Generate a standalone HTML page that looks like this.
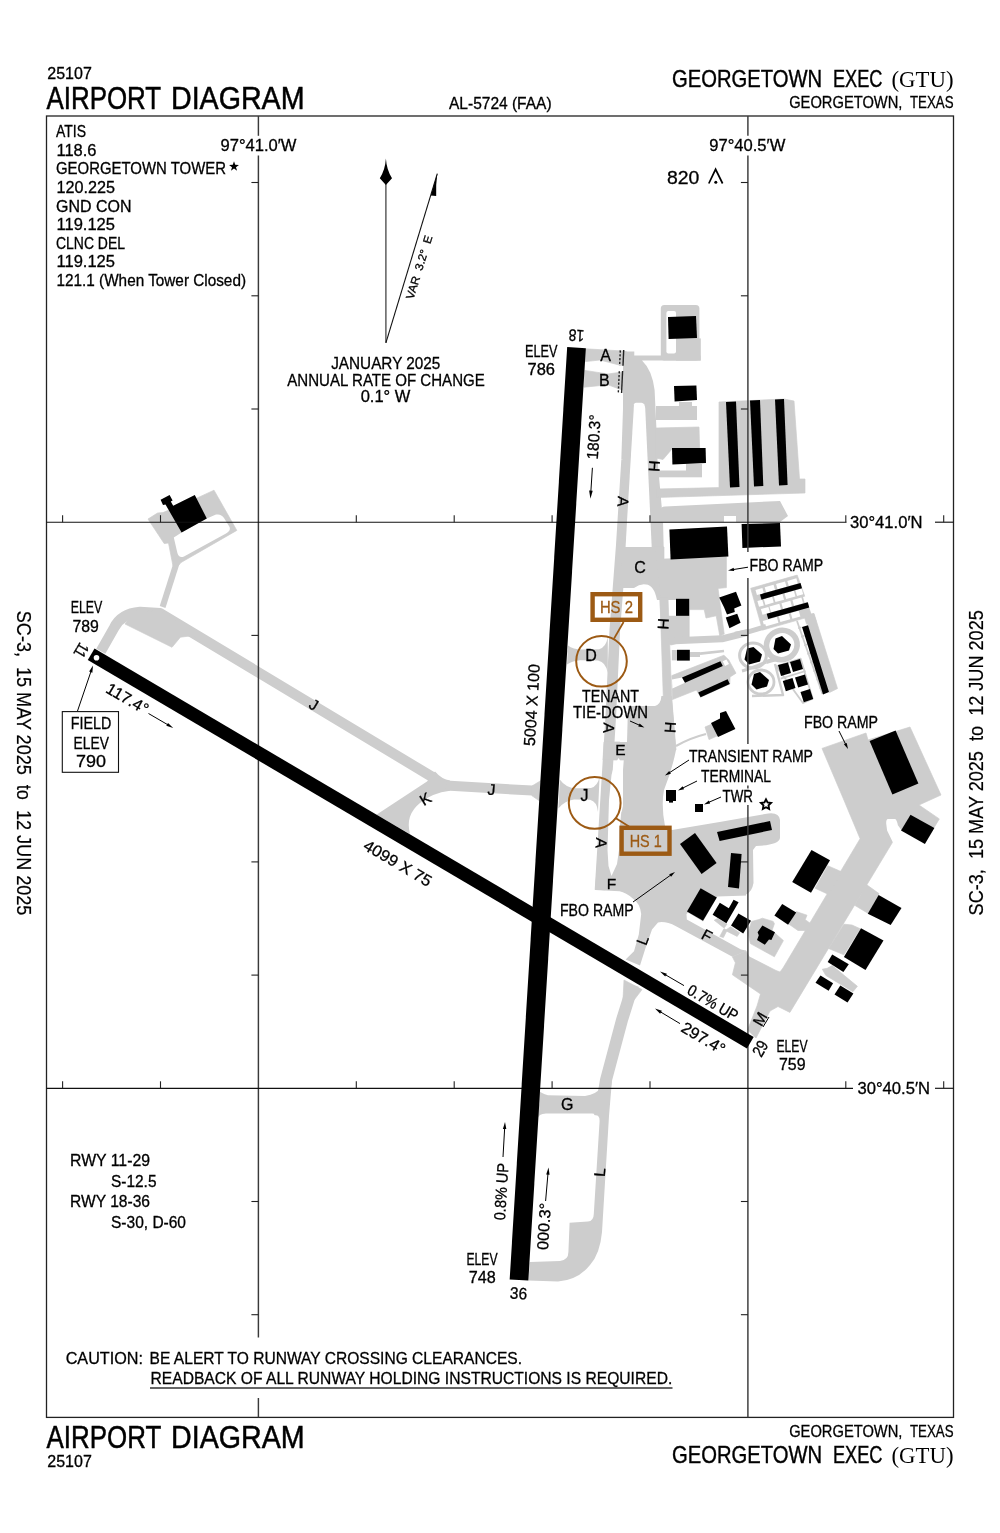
<!DOCTYPE html>
<html><head><meta charset="utf-8"><title>Airport Diagram - Georgetown Exec (GTU)</title>
<style>
html,body{margin:0;padding:0;background:#fff;}
svg{display:block;font-family:"Liberation Sans",sans-serif;will-change:transform;}
</style></head><body>
<svg width="1000" height="1533" viewBox="0 0 1000 1533">
<rect width="1000" height="1533" fill="#fff"/>
<path d="M100.8,651.3 L114,628 Q121,613.5 140,612 L160,613.2 L434,778" fill="none" stroke="#cdcdcd" stroke-width="10.4" stroke-linejoin="round"/>
<polygon points="125,624 172,647.3 180.4,637.2 190,636 205,645 165,612 135,610" fill="#cdcdcd" stroke="#cdcdcd" stroke-width="0.7" stroke-linejoin="round"/>
<polygon points="148,519 157.6,513 163,512.6 198.4,497.4 214,490.2 236.8,530.4 181,562.5 178,566 173,566 168.5,543 164.2,543.6" fill="#cdcdcd" stroke="#cdcdcd" stroke-width="0.7" stroke-linejoin="round"/>
<path d="M181.6,532.6 L206.8,518.4 L216,514.6 Q221,513.5 224,518 L229.6,527 Q231,531 226,533.4 L184,556.4 Q179,558.5 177.4,553 L173.8,537.6 Z" fill="#fff"/>
<path d="M176.6,563 L162.6,607" fill="none" stroke="#cdcdcd" stroke-width="6" stroke-linejoin="round"/>
<polygon points="160.6,499.8 169.6,495 172.6,500.4 170.8,501.6 173.2,505.8 194.8,495 206.8,518.4 181.6,532.6 165.5,504.5 163,505" fill="#000"/>
<path d="M427,781.5 L376.4,814.8 L410,834 Q405,815 420,803 Q432,793 450,790.8 L450,780.6 Q442,779.5 435,771.5 Z" fill="#cdcdcd"/>
<path d="M446,785.6 L537,790.8" fill="none" stroke="#cdcdcd" stroke-width="10" stroke-linejoin="round"/>
<polygon points="532,786 541.8,780 541.8,802.5 532,795.8" fill="#cdcdcd" stroke="#cdcdcd" stroke-width="0.7" stroke-linejoin="round"/>
<polygon points="585.5,348.8 623,351 623,365.4 619,365 600,360 585.5,361.6" fill="#cdcdcd" stroke="#cdcdcd" stroke-width="0.7" stroke-linejoin="round"/>
<polygon points="584.8,370.4 608,374 622,372 622,390 608,384.8 584,387.2" fill="#cdcdcd" stroke="#cdcdcd" stroke-width="0.7" stroke-linejoin="round"/>
<path d="M568,645.5 Q573,649.4 582,649.4 L599,649.2 Q606,647.5 607.8,637 L607.8,673 Q606,662 598,660.4 L580,660.2 Q573,660.6 567,664.5 Z" fill="#cdcdcd"/>
<path d="M559.8,779.5 Q566,788.2 576,788.2 L591,788 Q598,786 599.6,776 L598,812 Q597,801.5 590,799.8 L574,799.6 Q565,800.5 558.4,808.5 Z" fill="#cdcdcd"/>
<path d="M629,351.5 L628.6,400 L626.6,460 L621.3,545 L614.8,630 L610.8,716 L600,890" fill="none" stroke="#cdcdcd" stroke-width="10.6" stroke-linejoin="round"/>
<path d="M623,351 L626,351.2 L633,355.6 L700.5,355.6 L700.5,360.6 L642,360.6 Q652,370 654.6,390 L656.5,430 L657.5,460 L663,521 L664,560 L622,560 L623,430 Z" fill="#cdcdcd"/>
<path d="M634,404.3 Q634.2,402.8 636,402.8 L641.5,402.8 Q644.8,403.4 645.2,408 L651.7,547 L625.6,547 L627,521.6 Z" fill="#fff"/>
<rect x="660.8" y="305" width="38.6" height="55.6" fill="#cdcdcd" rx="3.5"/>
<rect x="676" y="338.4" width="24.8" height="22.2" fill="#cdcdcd"/>
<rect x="666.4" y="311" width="9.6" height="42.6" fill="#fff" rx="2"/>
<rect x="656" y="406" width="41" height="14" fill="#cdcdcd"/>
<rect x="679" y="402" width="13" height="5" fill="#cdcdcd"/>
<polygon points="656,428 699,427 699.6,448 672,449 663,459.5 656,458" fill="#cdcdcd" stroke="#cdcdcd" stroke-width="0.7" stroke-linejoin="round"/>
<rect x="657" y="470.5" width="45" height="6.8" fill="#cdcdcd"/>
<rect x="686" y="464" width="16" height="13" fill="#cdcdcd"/>
<polygon points="719,402 784,399 794,401 799.5,479 805,479 805,493 657,497.5 657,489 719,487.6" fill="#cdcdcd" stroke="#cdcdcd" stroke-width="0.7" stroke-linejoin="round"/>
<path d="M660,510.5 Q660.5,506.8 665,506.4 L780,501 L788,516 L780,522 L736,522 L736,516 L724,516 L724,522 L660,522.5 Z" fill="#cdcdcd"/>
<polygon points="654,547 664,547 664,559 726.4,556.8 726.4,587.6 718,588.4 724.2,634 719.8,636 716.2,615.8 706,618 704.2,609.6 689.2,609.6 689.2,640 671,645 662,640 660,600" fill="#cdcdcd" stroke="#cdcdcd" stroke-width="0.7" stroke-linejoin="round"/>
<polygon points="667.4,600 676,600 676,615.8 667.4,615.8" fill="#fff"/>
<path d="M622,547 L655,547 L661,600 L657,600 Q654,585 646,584.5 Q640,583.5 634,588 L620,588 Z" fill="#cdcdcd"/>
<polygon points="660,598 668,598 671.8,700 676,750 662,750 663.4,700" fill="#cdcdcd" stroke="#cdcdcd" stroke-width="0.7" stroke-linejoin="round"/>
<path d="M669,641 L722,638.8 L748,632.4" fill="none" stroke="#cdcdcd" stroke-width="7" stroke-linejoin="round"/>
<rect x="671.8" y="650" width="5.4" height="10.4" fill="#cdcdcd"/>
<rect x="689.8" y="652" width="10.2" height="5" fill="#cdcdcd"/>
<path d="M700,653.6 L724,651" fill="none" stroke="#cdcdcd" stroke-width="2.6" stroke-linejoin="round"/>
<polygon points="671.8,675.6 724,655.2 728.8,660 736,673.2 730,677 729.8,684 700.6,697.2 696.4,690 672.4,699.6" fill="#cdcdcd" stroke="#cdcdcd" stroke-width="0.7" stroke-linejoin="round"/>
<polygon points="672,679.6 682,677.4 685,682.8 672.4,688.4" fill="#fff"/>
<polygon points="722.8,661.2 726.4,659.6 729,664 725,666" fill="#fff"/>
<path d="M628,706 L655,706 Q661,704 661.4,696 L671.8,696 L676,750 Q672,770 664,790 Q661,805 665,826 L672,830 Q720,822 765,814 Q779,811 780,820 L780,838 Q779,845 756,846 L753,850 L753.5,883 Q752,892 746,894.5 L746,951 L732.4,956.8 L676,926.2 Q666,921 658,922.4 L652,929.6 L646,946.4 L640,965.6 L625.6,959.6 L634,951.2 L638.8,934.4 L641.2,914 Q640,903 632.8,898.4 Q626,892.5 619.6,891.2 L595,890 L600,822 L611,822 Q622,816 623,806 L623,770 Z" fill="#cdcdcd"/>
<polygon points="604,742 628,742 628,760 603,760" fill="#cdcdcd" stroke="#cdcdcd" stroke-width="0.7" stroke-linejoin="round"/>
<polygon points="617.8,706.5 628,706.5 627,742 620,742 618,730" fill="#fff"/>
<polygon points="618.5,758 622.5,764 623,775 622.5,800 619.5,830 619,850 617,864 611.5,876 608.5,866 607.5,850 609,800 611.5,775 614,766" fill="#fff"/>
<polygon points="717.4,896.5 748,895.5 748,951 741,949.6 686.8,919.6 686.5,914 688,912.5 703,921.5 716.8,897.4" fill="#fff"/>
<polygon points="714.2,920.2 717.4,918.6 727,924.2 724,928" fill="#cdcdcd" stroke="#cdcdcd" stroke-width="0.7" stroke-linejoin="round"/>
<polygon points="725.2,930.4 730.6,926.8 739.6,932.8 737.2,936.4" fill="#cdcdcd" stroke="#cdcdcd" stroke-width="0.7" stroke-linejoin="round"/>
<polygon points="719.8,936.4 723.4,937.6 727,930.4 724,928.6" fill="#cdcdcd" stroke="#cdcdcd" stroke-width="0.7" stroke-linejoin="round"/>
<polygon points="624,980 642,989.6 634,1000 623,1000" fill="#cdcdcd" stroke="#cdcdcd" stroke-width="0.7" stroke-linejoin="round"/>
<path d="M633,985 L622,1020 L606,1080 L600,1116" fill="none" stroke="#cdcdcd" stroke-width="12" stroke-linejoin="round"/>
<path d="M538.4,1089.6 Q541,1094 548,1095.2 L585,1096 Q597,1094 600,1088 L612,1080 L609,1116 L602,1232 Q600,1254 590,1265 Q578,1280 558,1281.6 L528.3,1280.4 L530,1262 L560,1261 Q568.4,1260 568.4,1252 L569.6,1222.8 L588,1221.6 Q593.6,1221 593.8,1214 L599.6,1121 Q599.6,1113.6 592,1113.6 L546,1113.6 Q538.5,1113.6 537,1120 Z" fill="#cdcdcd"/>
<polygon points="746,951 749.2,956.8 776,970.5 780,972 783,968 860.1,838.7 843.9,800 822,748.4 866,733 868,740 910,727 941,795 919,805 939.3,818.9 933.9,827.9 910.5,814.8 901,830.6 892.5,842.3 789.9,1012.4 778,1006.5 770,1011 756,1038 747.5,1030 757,1006 760.5,994 732.4,974.8 735.4,962.8 732.4,956.8" fill="#cdcdcd" stroke="#cdcdcd" stroke-width="0.7" stroke-linejoin="round"/>
<path d="M886.2,823.4 Q886,819 888,818.9 L895.2,818.9 Q897,820 897.9,825.2 L902,830.8 L893.2,843 L887.1,830.6 Z" fill="#fff"/>
<polygon points="827.7,865.7 842.1,872 828.6,894.5 815.1,888.2" fill="#cdcdcd" stroke="#cdcdcd" stroke-width="0.7" stroke-linejoin="round"/>
<polygon points="796.2,911.6 807,915.2 805.2,919.7 811.5,924.2 807,930.5 798,930.5 789,924.2" fill="#cdcdcd" stroke="#cdcdcd" stroke-width="0.7" stroke-linejoin="round"/>
<polygon points="866.4,884.6 879,893.6 868.2,913.4 854.7,905.3" fill="#cdcdcd" stroke="#cdcdcd" stroke-width="0.7" stroke-linejoin="round"/>
<polygon points="852,925 860.1,928.7 843.9,954.8 828.6,948.5 843.9,924.2" fill="#cdcdcd" stroke="#cdcdcd" stroke-width="0.7" stroke-linejoin="round"/>
<polygon points="827.2,968.3 832.2,965.6 857.4,986.3 852.9,991.7 825.9,975.5 822.3,969.2" fill="#cdcdcd" stroke="#cdcdcd" stroke-width="0.7" stroke-linejoin="round"/>
<polygon points="751.6,921.4 758.8,919.6 762.4,918.2 773.2,921.4 774.4,923.8 772,930.4 783.4,940.6 774.4,956.8 750.4,943.6 748,932.8" fill="#cdcdcd" stroke="#cdcdcd" stroke-width="0.7" stroke-linejoin="round"/>
<polygon points="668,317 696,316 697,338 668.6,339" fill="#000"/>
<polygon points="674,386 696.4,385.4 697,400 674.6,401.4" fill="#000"/>
<polygon points="672,448 705.6,448 706,463 672.4,464.4" fill="#000"/>
<polygon points="726,402 736,401.5 739.5,487 730,487.5" fill="#000"/>
<polygon points="750,400.5 760,400 763.3,486 754,486.5" fill="#000"/>
<polygon points="775,399.5 784,399 787.6,485 779,485.5" fill="#000"/>
<polygon points="669.4,529.6 727,526.6 728.4,556.6 670.6,559.4" fill="#000"/>
<polygon points="741.6,524 780,523 781,546.4 742.4,548" fill="#000"/>
<rect x="676" y="598.8" width="13.2" height="17" fill="#000"/>
<rect x="677" y="649.8" width="12.8" height="10.8" fill="#000"/>
<polygon points="719.2,597.6 736,591.8 741.4,605.4 734.2,608.4 734.8,612 727,614.6 724,607.2" fill="#000"/>
<polygon points="725.8,617.4 737.2,613.8 740.6,622.8 729.4,628.2" fill="#000"/>
<polygon points="682,677.4 720.4,661.2 722.8,666 685,682.8" fill="#000"/>
<polygon points="698.2,692.4 727.6,679.2 729.8,684 700.6,697.2" fill="#000"/>
<polygon points="750.7,588.3 797.2,575.1 811.8,616.1 762.5,630.1" fill="#cdcdcd" stroke="#cdcdcd" stroke-width="0.7" stroke-linejoin="round"/>
<line x1="756.2" y1="592.5" x2="803.2" y2="579.2" stroke="#fff" stroke-width="5.4" stroke-dasharray="7.2 2.4 9.2 2.6 9.3 2.4 9.4 60"/>
<line x1="758.2" y1="603.9" x2="806.3" y2="590.2" stroke="#fff" stroke-width="6.0" stroke-dasharray="5 1.7 8.6 1.8 8.9 2.2 9.7 1.6 6.4 60"/>
<line x1="761.7" y1="611.9" x2="808.7" y2="598.6" stroke="#fff" stroke-width="6.0" stroke-dasharray="7.8 1.1 10.3 2.2 9.2 2.2 9.3 1.7 3.6 60"/>
<line x1="763.6" y1="623.8" x2="811.9" y2="610.0" stroke="#fff" stroke-width="6.0" stroke-dasharray="14.6 2 10.3 2.2 8.3 60"/>
<polygon points="760,594.4 800.5,582.9 802,588.2 761.5,599.7" fill="#000"/>
<polygon points="766.7,613.8 807.8,602.2 809.3,607.5 768.2,619.1" fill="#000"/>
<polygon points="804,615.5 813.5,613.5 816,621 806.5,624" fill="#cdcdcd" stroke="#cdcdcd" stroke-width="0.7" stroke-linejoin="round"/>
<path d="M735,634.2 L749,631.6 L766,626.4" fill="none" stroke="#cdcdcd" stroke-width="5" stroke-linejoin="round"/>
<ellipse cx="781.8" cy="645" rx="15.4" ry="14.6" fill="none" stroke="#cdcdcd" stroke-width="5.6" transform="rotate(-20 781.8 645)"/>
<ellipse cx="753" cy="655.5" rx="13.4" ry="12.6" fill="none" stroke="#cdcdcd" stroke-width="3"/>
<ellipse cx="761" cy="682" rx="13" ry="12" fill="none" stroke="#cdcdcd" stroke-width="2.8"/>
<path d="M742,671 Q752,668 766,662" fill="none" stroke="#cdcdcd" stroke-width="3" stroke-linejoin="round"/>
<path d="M766,662 Q772,660 778,659" fill="none" stroke="#cdcdcd" stroke-width="4" stroke-linejoin="round"/>
<path d="M775,664 L783,695 L752,696" fill="none" stroke="#cdcdcd" stroke-width="2.4" stroke-linejoin="round"/>
<path d="M776.4,666.4 L800.6,658.6 L812.6,698.6 L803,703 Z" fill="none" stroke="#cdcdcd" stroke-width="1.8" stroke-linejoin="round"/>
<path d="M780.6,678.6 L805.6,671" fill="none" stroke="#cdcdcd" stroke-width="1.8" stroke-linejoin="round"/>
<polygon points="808,625 806,617 814,613.5 837.5,688.5 829.5,692.5" fill="#cdcdcd" stroke="#cdcdcd" stroke-width="0.7" stroke-linejoin="round"/>
<path d="M797,621 L822.5,694" fill="none" stroke="#cdcdcd" stroke-width="1.8" stroke-linejoin="round"/>
<line x1="799.5" y1="627" x2="822" y2="690.5" stroke="#cdcdcd" stroke-width="3.4" stroke-dasharray="1.6 7.5"/>
<polygon points="802,627 808,625.2 829,692 823,694.5" fill="#000"/>
<polygon points="775.5,638.5 782,636 791,644.5 789,650.5 778,653.5 773.5,649" fill="#000"/>
<polygon points="747,648.5 753.5,647 762,654.5 760,661.5 749,664.5 744.5,659.5" fill="#000"/>
<polygon points="754,674 760,672 769,680 767,686.5 756.5,689.5 751.5,684.5" fill="#000"/>
<polygon points="778,665 788,662.5 791,673 781,676" fill="#000"/>
<polygon points="790,662 800,659 803,669 793,672" fill="#000"/>
<polygon points="782.8,681 792.5,678 795.5,688 785.8,691.2" fill="#000"/>
<polygon points="795,677.5 805,674.5 808,684.5 798.2,687.5" fill="#000"/>
<polygon points="800.5,692 810,689 813.2,699 803.8,702.2" fill="#000"/>
<polygon points="705,727 712,724 717,736 709,739.6" fill="#cdcdcd" stroke="#cdcdcd" stroke-width="0.7" stroke-linejoin="round"/>
<path d="M676,746 Q690,738 706,734" fill="none" stroke="#cdcdcd" stroke-width="2.2" stroke-linejoin="round"/>
<polygon points="711,723 720,718.5 720,713 726,711 728,715 735.4,729 718,737" fill="#000"/>
<rect x="666" y="790" width="10" height="11" fill="#000"/>
<rect x="669" y="800" width="4" height="2.6" fill="#000"/>
<rect x="695" y="804" width="8" height="8" fill="#000"/>
<polygon points="717,832 770,821 772,830 719.6,841" fill="#000"/>
<polygon points="680,844 695,833 716.6,863 701.6,874" fill="#000"/>
<polygon points="731,853 741.6,854 739,888.4 728,887" fill="#000"/>
<polygon points="700.6,888.2 716.8,897.4 703,920.8 687,911.4" fill="#000"/>
<polygon points="712.6,914.8 719.8,902.8 728.8,908.2 733.6,899.8 738.6,902.2 726.4,923.2" fill="#000"/>
<polygon points="731,925.6 738.4,913.4 751,920.8 743.2,933.4" fill="#000"/>
<polygon points="774.4,915.4 782.2,904 796.2,912.5 788.1,924.7" fill="#000"/>
<polygon points="757.6,932.2 762.4,925.4 775,932.2 771.4,940 769,939.4 764.8,944.8 757,940 758.8,935.2" fill="#000"/>
<polygon points="811.5,850 830,860.3 811,892.7 792.2,881.9" fill="#000"/>
<polygon points="869.6,741 895.6,730.6 918.4,783.6 892.4,794.6" fill="#000"/>
<polygon points="910.5,814.8 934.4,827.9 924.9,844.1 901,830.6" fill="#000"/>
<polygon points="878.6,895 901.5,908 890.7,925.1 867.8,913.8" fill="#000"/>
<polygon points="861,928.2 883.5,940.4 865.5,970.1 843.9,957" fill="#000"/>
<polygon points="832.2,954.4 848.8,964.2 843.4,971.9 827.7,962" fill="#000"/>
<polygon points="820.5,975.5 833.1,983.2 828.6,990.8 815.5,982.7" fill="#000"/>
<polygon points="840.3,985.4 853.4,993.5 847.5,1002.5 834.5,994.4" fill="#000"/>
<line x1="620.3" y1="350.4" x2="619.6" y2="365.6" stroke="#222" stroke-width="1.4" stroke-dasharray="2.2 1.6"/>
<line x1="623.7" y1="350" x2="623" y2="365.8" stroke="#222" stroke-width="1.4"/>
<line x1="619.3" y1="371.2" x2="618.3" y2="392.8" stroke="#222" stroke-width="1.4" stroke-dasharray="2.2 1.6"/>
<line x1="622.6" y1="371" x2="621.6" y2="393" stroke="#222" stroke-width="1.4"/>
<rect x="46.5" y="116.0" width="907.0" height="1301.4" fill="none" stroke="#222" stroke-width="1.3"/>
<line x1="258.4" y1="116" x2="258.4" y2="135.8" stroke="#3a3a3a" stroke-width="1.45"/>
<line x1="258.4" y1="155.6" x2="258.4" y2="1337.5" stroke="#3a3a3a" stroke-width="1.45"/>
<line x1="258.4" y1="1398" x2="258.4" y2="1417.4" stroke="#3a3a3a" stroke-width="1.45"/>
<line x1="747.9" y1="116" x2="747.9" y2="135.8" stroke="#3a3a3a" stroke-width="1.45"/>
<line x1="747.9" y1="155.6" x2="747.9" y2="552" stroke="#3a3a3a" stroke-width="1.45"/>
<line x1="747.9" y1="578" x2="747.9" y2="744" stroke="#3a3a3a" stroke-width="1.45"/>
<line x1="747.9" y1="785.5" x2="747.9" y2="788.5" stroke="#3a3a3a" stroke-width="1.45"/>
<line x1="747.9" y1="805" x2="747.9" y2="1417.4" stroke="#3a3a3a" stroke-width="1.45"/>
<line x1="46.5" y1="522.2" x2="846.5" y2="522.2" stroke="#111" stroke-width="1.15"/>
<line x1="935" y1="522.2" x2="953.5" y2="522.2" stroke="#111" stroke-width="1.15"/>
<line x1="46.5" y1="1088.3" x2="853" y2="1088.3" stroke="#111" stroke-width="1.15"/>
<line x1="935" y1="1088.3" x2="953.5" y2="1088.3" stroke="#111" stroke-width="1.15"/>
<line x1="62.6" y1="515.2" x2="62.6" y2="522.2" stroke="#222" stroke-width="1.1"/>
<line x1="160.5" y1="515.2" x2="160.5" y2="522.2" stroke="#222" stroke-width="1.1"/>
<line x1="356.3" y1="515.2" x2="356.3" y2="522.2" stroke="#222" stroke-width="1.1"/>
<line x1="454.2" y1="515.2" x2="454.2" y2="522.2" stroke="#222" stroke-width="1.1"/>
<line x1="552.1" y1="515.2" x2="552.1" y2="522.2" stroke="#222" stroke-width="1.1"/>
<line x1="650.0" y1="515.2" x2="650.0" y2="522.2" stroke="#222" stroke-width="1.1"/>
<line x1="845.8" y1="515.2" x2="845.8" y2="522.2" stroke="#222" stroke-width="1.1"/>
<line x1="943.7" y1="515.2" x2="943.7" y2="522.2" stroke="#222" stroke-width="1.1"/>
<line x1="62.6" y1="1081.3" x2="62.6" y2="1088.3" stroke="#222" stroke-width="1.1"/>
<line x1="160.5" y1="1081.3" x2="160.5" y2="1088.3" stroke="#222" stroke-width="1.1"/>
<line x1="356.3" y1="1081.3" x2="356.3" y2="1088.3" stroke="#222" stroke-width="1.1"/>
<line x1="454.2" y1="1081.3" x2="454.2" y2="1088.3" stroke="#222" stroke-width="1.1"/>
<line x1="552.1" y1="1081.3" x2="552.1" y2="1088.3" stroke="#222" stroke-width="1.1"/>
<line x1="650.0" y1="1081.3" x2="650.0" y2="1088.3" stroke="#222" stroke-width="1.1"/>
<line x1="845.8" y1="1081.3" x2="845.8" y2="1088.3" stroke="#222" stroke-width="1.1"/>
<line x1="943.7" y1="1081.3" x2="943.7" y2="1088.3" stroke="#222" stroke-width="1.1"/>
<line x1="251.39999999999998" y1="182.5" x2="258.4" y2="182.5" stroke="#222" stroke-width="1.1"/>
<line x1="251.39999999999998" y1="295.8" x2="258.4" y2="295.8" stroke="#222" stroke-width="1.1"/>
<line x1="251.39999999999998" y1="409.0" x2="258.4" y2="409.0" stroke="#222" stroke-width="1.1"/>
<line x1="251.39999999999998" y1="635.4" x2="258.4" y2="635.4" stroke="#222" stroke-width="1.1"/>
<line x1="251.39999999999998" y1="748.6" x2="258.4" y2="748.6" stroke="#222" stroke-width="1.1"/>
<line x1="251.39999999999998" y1="861.9" x2="258.4" y2="861.9" stroke="#222" stroke-width="1.1"/>
<line x1="251.39999999999998" y1="975.1" x2="258.4" y2="975.1" stroke="#222" stroke-width="1.1"/>
<line x1="251.39999999999998" y1="1201.5" x2="258.4" y2="1201.5" stroke="#222" stroke-width="1.1"/>
<line x1="251.39999999999998" y1="1314.7" x2="258.4" y2="1314.7" stroke="#222" stroke-width="1.1"/>
<line x1="740.9" y1="182.5" x2="747.9" y2="182.5" stroke="#222" stroke-width="1.1"/>
<line x1="740.9" y1="295.8" x2="747.9" y2="295.8" stroke="#222" stroke-width="1.1"/>
<line x1="740.9" y1="409.0" x2="747.9" y2="409.0" stroke="#222" stroke-width="1.1"/>
<line x1="740.9" y1="635.4" x2="747.9" y2="635.4" stroke="#222" stroke-width="1.1"/>
<line x1="740.9" y1="861.9" x2="747.9" y2="861.9" stroke="#222" stroke-width="1.1"/>
<line x1="740.9" y1="975.1" x2="747.9" y2="975.1" stroke="#222" stroke-width="1.1"/>
<line x1="740.9" y1="1201.5" x2="747.9" y2="1201.5" stroke="#222" stroke-width="1.1"/>
<line x1="740.9" y1="1314.7" x2="747.9" y2="1314.7" stroke="#222" stroke-width="1.1"/>
<text x="220.5" y="150.6" font-size="16" textLength="76" lengthAdjust="spacingAndGlyphs" fill="#000" stroke="#000" stroke-width="0.3">97°41.0′W</text>
<text x="709.3" y="150.6" font-size="16" textLength="76" lengthAdjust="spacingAndGlyphs" fill="#000" stroke="#000" stroke-width="0.3">97°40.5′W</text>
<text x="850" y="527.5" font-size="16" textLength="72.5" lengthAdjust="spacingAndGlyphs" fill="#000" stroke="#000" stroke-width="0.3">30°41.0′N</text>
<text x="857.5" y="1094" font-size="16" textLength="72.5" lengthAdjust="spacingAndGlyphs" fill="#000" stroke="#000" stroke-width="0.3">30°40.5′N</text>
<line x1="576.5" y1="347.7" x2="519" y2="1280" stroke="#000" stroke-width="18.7"/>
<line x1="91.15" y1="654.25" x2="750.3" y2="1042.7" stroke="#000" stroke-width="13.3"/>
<circle cx="96.5" cy="657.8" r="2.8" fill="#fff"/>
<text x="47.3" y="78.5" font-size="16" textLength="44.5" lengthAdjust="spacingAndGlyphs" fill="#000" stroke="#000" stroke-width="0.3">25107</text>
<text x="46.5" y="108.5" font-size="31.3" textLength="114.6" lengthAdjust="spacingAndGlyphs" fill="#000" stroke="#000" stroke-width="0.5">AIRPORT</text>
<text x="171" y="108.5" font-size="31.3" textLength="133.5" lengthAdjust="spacingAndGlyphs" fill="#000" stroke="#000" stroke-width="0.5">DIAGRAM</text>
<text x="449" y="108.6" font-size="16" textLength="102.6" lengthAdjust="spacingAndGlyphs" fill="#000" stroke="#000" stroke-width="0.3">AL-5724 (FAA)</text>
<text x="672" y="87" font-size="23.4" textLength="150.2" lengthAdjust="spacingAndGlyphs" fill="#000" stroke="#000" stroke-width="0.4">GEORGETOWN</text>
<text x="833" y="87" font-size="23.4" textLength="49.5" lengthAdjust="spacingAndGlyphs" fill="#000" stroke="#000" stroke-width="0.4">EXEC</text>
<text x="891.5" y="87" font-size="23" textLength="62" lengthAdjust="spacingAndGlyphs" font-family="Liberation Serif, serif" fill="#000">(GTU)</text>
<text x="789.2" y="107.8" font-size="16.5" textLength="113.2" lengthAdjust="spacingAndGlyphs" fill="#000" stroke="#000" stroke-width="0.3">GEORGETOWN,</text>
<text x="910" y="107.8" font-size="16.5" textLength="43.5" lengthAdjust="spacingAndGlyphs" fill="#000" stroke="#000" stroke-width="0.3">TEXAS</text>
<text x="46.6" y="1447.9" font-size="31.3" textLength="114.6" lengthAdjust="spacingAndGlyphs" fill="#000" stroke="#000" stroke-width="0.5">AIRPORT</text>
<text x="171.1" y="1447.9" font-size="31.3" textLength="133.5" lengthAdjust="spacingAndGlyphs" fill="#000" stroke="#000" stroke-width="0.5">DIAGRAM</text>
<text x="47.3" y="1467" font-size="16" textLength="44.5" lengthAdjust="spacingAndGlyphs" fill="#000" stroke="#000" stroke-width="0.3">25107</text>
<text x="789.2" y="1436.8" font-size="16.5" textLength="113.2" lengthAdjust="spacingAndGlyphs" fill="#000" stroke="#000" stroke-width="0.3">GEORGETOWN,</text>
<text x="910" y="1436.8" font-size="16.5" textLength="43.5" lengthAdjust="spacingAndGlyphs" fill="#000" stroke="#000" stroke-width="0.3">TEXAS</text>
<text x="672" y="1462.5" font-size="23.4" textLength="150.2" lengthAdjust="spacingAndGlyphs" fill="#000" stroke="#000" stroke-width="0.4">GEORGETOWN</text>
<text x="833" y="1462.5" font-size="23.4" textLength="49.5" lengthAdjust="spacingAndGlyphs" fill="#000" stroke="#000" stroke-width="0.4">EXEC</text>
<text x="891.5" y="1462.5" font-size="23" textLength="62" lengthAdjust="spacingAndGlyphs" font-family="Liberation Serif, serif" fill="#000">(GTU)</text>
<text x="16.8" y="610.8" font-size="19.4" textLength="304.6" lengthAdjust="spacingAndGlyphs" transform="rotate(90 16.8 610.8)" fill="#000" stroke="#000" stroke-width="0.2">SC-3,  15 MAY 2025  to  12 JUN 2025</text>
<text x="983" y="915.4" font-size="19.4" textLength="305.2" lengthAdjust="spacingAndGlyphs" transform="rotate(-90 983 915.4)" fill="#000" stroke="#000" stroke-width="0.2">SC-3,  15 MAY 2025  to  12 JUN 2025</text>
<text x="56" y="137.3" font-size="16" textLength="30" lengthAdjust="spacingAndGlyphs" fill="#000" stroke="#000" stroke-width="0.3">ATIS</text>
<text x="56.5" y="155.9" font-size="16" textLength="40" lengthAdjust="spacingAndGlyphs" fill="#000" stroke="#000" stroke-width="0.3">118.6</text>
<text x="56" y="174.4" font-size="16" textLength="170" lengthAdjust="spacingAndGlyphs" fill="#000" stroke="#000" stroke-width="0.3">GEORGETOWN TOWER</text>
<text x="56.5" y="193.0" font-size="16" textLength="58.5" lengthAdjust="spacingAndGlyphs" fill="#000" stroke="#000" stroke-width="0.3">120.225</text>
<text x="56" y="211.5" font-size="16" textLength="75.5" lengthAdjust="spacingAndGlyphs" fill="#000" stroke="#000" stroke-width="0.3">GND CON</text>
<text x="56.5" y="230.1" font-size="16" textLength="58.5" lengthAdjust="spacingAndGlyphs" fill="#000" stroke="#000" stroke-width="0.3">119.125</text>
<text x="56" y="248.6" font-size="16" textLength="69" lengthAdjust="spacingAndGlyphs" fill="#000" stroke="#000" stroke-width="0.3">CLNC DEL</text>
<text x="56.5" y="267.1" font-size="16" textLength="58.5" lengthAdjust="spacingAndGlyphs" fill="#000" stroke="#000" stroke-width="0.3">119.125</text>
<text x="56.5" y="285.7" font-size="16" textLength="189.5" lengthAdjust="spacingAndGlyphs" fill="#000" stroke="#000" stroke-width="0.3">121.1 (When Tower Closed)</text>
<polygon points="234,161.3 235.22,164.82 238.95,164.89 235.98,167.14 237.06,170.71 234,168.58 230.94,170.71 232.02,167.14 229.05,164.89 232.78,164.82" fill="#000"/>
<line x1="385.9" y1="184" x2="385.9" y2="342.8" stroke="#444" stroke-width="1.3"/>
<path d="M385.9,158.6 Q386.6,170 392,178.2 L385.9,185 L379.8,178.2 Q385.2,170 385.9,158.6 Z" fill="#000"/>
<line x1="385.9" y1="342.8" x2="437.3" y2="173.6" stroke="#111" stroke-width="1.1"/>
<path d="M437.3,173.6 Q435.6,186 436.2,196 L430.8,195.6 Z" fill="#000"/>
<text transform="translate(419 267.3) rotate(-73.1)" x="0" y="4.08" font-size="11.4" textLength="66" lengthAdjust="spacingAndGlyphs" text-anchor="middle" fill="#000" stroke="#000" stroke-width="0.3">VAR  3.2°  E</text>
<text x="331.2" y="369.2" font-size="16.5" textLength="109.2" lengthAdjust="spacingAndGlyphs" fill="#000" stroke="#000" stroke-width="0.3">JANUARY 2025</text>
<text x="287.3" y="386" font-size="16.5" textLength="197.5" lengthAdjust="spacingAndGlyphs" fill="#000" stroke="#000" stroke-width="0.3">ANNUAL RATE OF CHANGE</text>
<text x="360.7" y="401.8" font-size="16.5" textLength="49.7" lengthAdjust="spacingAndGlyphs" fill="#000" stroke="#000" stroke-width="0.3">0.1° W</text>
<text x="667" y="183.7" font-size="19" textLength="32.4" lengthAdjust="spacingAndGlyphs" fill="#000" stroke="#000" stroke-width="0.3">820</text>
<path d="M708.8,183.5 L715.6,169.3 L722.6,183.5" fill="none" stroke="#000" stroke-width="1.7"/>
<circle cx="715.8" cy="182.3" r="1.5" fill="#000"/>
<text x="70" y="1165.7" font-size="16" textLength="80" lengthAdjust="spacingAndGlyphs" fill="#000" stroke="#000" stroke-width="0.3">RWY 11-29</text>
<text x="111" y="1186.8" font-size="16" textLength="45.5" lengthAdjust="spacingAndGlyphs" fill="#000" stroke="#000" stroke-width="0.3">S-12.5</text>
<text x="70" y="1206.9" font-size="16" textLength="80" lengthAdjust="spacingAndGlyphs" fill="#000" stroke="#000" stroke-width="0.3">RWY 18-36</text>
<text x="111" y="1227.7" font-size="16" textLength="75" lengthAdjust="spacingAndGlyphs" fill="#000" stroke="#000" stroke-width="0.3">S-30, D-60</text>
<text x="65.7" y="1364" font-size="17" textLength="77.3" lengthAdjust="spacingAndGlyphs" fill="#000" stroke="#000" stroke-width="0.3">CAUTION:</text>
<text x="149.6" y="1364" font-size="17" textLength="372.4" lengthAdjust="spacingAndGlyphs" fill="#000" stroke="#000" stroke-width="0.3">BE ALERT TO RUNWAY CROSSING CLEARANCES.</text>
<text x="150.5" y="1383.8" font-size="17" textLength="521.8" lengthAdjust="spacingAndGlyphs" fill="#000" stroke="#000" stroke-width="0.3">READBACK OF ALL RUNWAY HOLDING INSTRUCTIONS IS REQUIRED.</text>
<line x1="150" y1="1388" x2="672.5" y2="1388" stroke="#333" stroke-width="1.4"/>
<text x="525" y="356.5" font-size="15.6" textLength="32.5" lengthAdjust="spacingAndGlyphs" fill="#000" stroke="#000" stroke-width="0.3">ELEV</text>
<text x="527.5" y="375.2" font-size="15.6" textLength="27.5" lengthAdjust="spacingAndGlyphs" fill="#000" stroke="#000" stroke-width="0.3">786</text>
<text transform="translate(576.4 335.6) rotate(183.5)" x="0" y="5.91" font-size="16.5" textLength="15.5" lengthAdjust="spacingAndGlyphs" text-anchor="middle" fill="#000" stroke="#000" stroke-width="0.3">18</text>
<text transform="translate(605.6 355.4) rotate(0)" x="0" y="5.73" font-size="16" text-anchor="middle" fill="#000" stroke="#000" stroke-width="0.3">A</text>
<text transform="translate(604.3 380.3) rotate(0)" x="0" y="5.73" font-size="16" text-anchor="middle" fill="#000" stroke="#000" stroke-width="0.3">B</text>
<text transform="translate(593.5 437) rotate(-86.5)" x="0" y="5.73" font-size="16" textLength="45" lengthAdjust="spacingAndGlyphs" text-anchor="middle" fill="#000" stroke="#000" stroke-width="0.3">180.3°</text>
<line x1="592.4" y1="467.8" x2="590.85" y2="491.71" stroke="#000" stroke-width="1"/>
<polygon points="590.4,498.7 589.12,490.6 592.713,490.833" fill="#000"/>
<text transform="translate(654.6 466.2) rotate(93)" x="0" y="5.55" font-size="15.5" text-anchor="middle" fill="#000" stroke="#000" stroke-width="0.3">H</text>
<text transform="translate(623.2 501.4) rotate(93.5)" x="0" y="5.55" font-size="15.5" text-anchor="middle" fill="#000" stroke="#000" stroke-width="0.3">A</text>
<text transform="translate(640 567) rotate(0)" x="0" y="5.73" font-size="16" text-anchor="middle" fill="#000" stroke="#000" stroke-width="0.3">C</text>
<text transform="translate(591 655.3) rotate(0)" x="0" y="5.73" font-size="16" text-anchor="middle" fill="#000" stroke="#000" stroke-width="0.3">D</text>
<text transform="translate(531.6 705) rotate(-86.5)" x="0" y="5.73" font-size="16" textLength="82" lengthAdjust="spacingAndGlyphs" text-anchor="middle" fill="#000" stroke="#000" stroke-width="0.3">5004 X 100</text>
<text x="582" y="702.4" font-size="16" textLength="57" lengthAdjust="spacingAndGlyphs" fill="#000" stroke="#000" stroke-width="0.3">TENANT</text>
<text x="573" y="718.4" font-size="16" textLength="75" lengthAdjust="spacingAndGlyphs" fill="#000" stroke="#000" stroke-width="0.3">TIE-DOWN</text>
<line x1="630" y1="721" x2="639.83" y2="725.37" stroke="#000" stroke-width="1"/>
<polygon points="644.4,727.4 638.267,726.425 639.567,723.501" fill="#000"/>
<text transform="translate(609 728) rotate(93.5)" x="0" y="5.55" font-size="15.5" text-anchor="middle" fill="#000" stroke="#000" stroke-width="0.3">A</text>
<text transform="translate(620.4 749.4) rotate(0)" x="0" y="5.55" font-size="15.5" text-anchor="middle" fill="#000" stroke="#000" stroke-width="0.3">E</text>
<text transform="translate(670.4 727.4) rotate(93)" x="0" y="5.55" font-size="15.5" text-anchor="middle" fill="#000" stroke="#000" stroke-width="0.3">H</text>
<text transform="translate(663.6 624) rotate(93)" x="0" y="5.55" font-size="15.5" text-anchor="middle" fill="#000" stroke="#000" stroke-width="0.3">H</text>
<text x="689" y="761.6" font-size="16" textLength="124" lengthAdjust="spacingAndGlyphs" fill="#000" stroke="#000" stroke-width="0.3">TRANSIENT RAMP</text>
<line x1="689" y1="760" x2="669.19" y2="772.88" stroke="#000" stroke-width="1"/>
<polygon points="665,775.6 669.159,770.989 670.903,773.672" fill="#000"/>
<text x="701" y="782.4" font-size="16" textLength="70" lengthAdjust="spacingAndGlyphs" fill="#000" stroke="#000" stroke-width="0.3">TERMINAL</text>
<line x1="697" y1="781" x2="682.48" y2="788.18" stroke="#000" stroke-width="1"/>
<polygon points="678,790.4 682.668,786.305 684.087,789.173" fill="#000"/>
<text x="722.6" y="802.4" font-size="16" textLength="30.4" lengthAdjust="spacingAndGlyphs" fill="#000" stroke="#000" stroke-width="0.3">TWR</text>
<line x1="721" y1="797" x2="708.58" y2="802.4" stroke="#000" stroke-width="1"/>
<polygon points="704,804.4 708.863,800.538 710.14,803.472" fill="#000"/>
<polygon points="766,799.3 767.56,802.46 771.04,802.96 768.52,805.42 769.12,808.89 766,807.25 762.88,808.89 763.48,805.42 760.96,802.96 764.44,802.46" fill="#fff" stroke="#000" stroke-width="1.9"/>
<text transform="translate(584.4 795) rotate(0)" x="0" y="5.73" font-size="16" text-anchor="middle" fill="#000" stroke="#000" stroke-width="0.3">J</text>
<text transform="translate(601.6 843) rotate(93.5)" x="0" y="5.55" font-size="15.5" text-anchor="middle" fill="#000" stroke="#000" stroke-width="0.3">A</text>
<text transform="translate(611.4 883.6) rotate(0)" x="0" y="5.55" font-size="15.5" text-anchor="middle" fill="#000" stroke="#000" stroke-width="0.3">F</text>
<text x="560" y="916" font-size="16" textLength="73.6" lengthAdjust="spacingAndGlyphs" fill="#000" stroke="#000" stroke-width="0.3">FBO RAMP</text>
<line x1="633" y1="902" x2="670.93" y2="874.91" stroke="#000" stroke-width="1"/>
<polygon points="675,872 671.048,876.789 669.188,874.185" fill="#000"/>
<text transform="translate(642.4 940.2) rotate(-69)" x="0" y="5.55" font-size="15.5" text-anchor="middle" fill="#000" stroke="#000" stroke-width="0.3">L</text>
<text transform="translate(707 935.3) rotate(28)" x="0" y="5.55" font-size="15.5" text-anchor="middle" fill="#000" stroke="#000" stroke-width="0.3">F</text>
<text transform="translate(760 1019) rotate(-60)" x="0" y="5.55" font-size="15.5" text-anchor="middle" fill="#000" stroke="#000" stroke-width="0.3">M</text>
<line x1="763" y1="1027" x2="769" y2="1017" stroke="#000" stroke-width="1"/>
<text transform="translate(760 1048.4) rotate(-59.5)" x="0" y="5.91" font-size="16.5" textLength="15.5" lengthAdjust="spacingAndGlyphs" text-anchor="middle" fill="#000" stroke="#000" stroke-width="0.3">29</text>
<text x="776.4" y="1052" font-size="16" textLength="31.2" lengthAdjust="spacingAndGlyphs" fill="#000" stroke="#000" stroke-width="0.3">ELEV</text>
<text x="779" y="1070.4" font-size="16" textLength="26.6" lengthAdjust="spacingAndGlyphs" fill="#000" stroke="#000" stroke-width="0.3">759</text>
<text transform="translate(713 1002.5) rotate(30.5)" x="0" y="5.73" font-size="16" textLength="56" lengthAdjust="spacingAndGlyphs" text-anchor="middle" fill="#000" stroke="#000" stroke-width="0.3">0.7% UP</text>
<line x1="684" y1="985.6" x2="665.18" y2="974.62" stroke="#000" stroke-width="1"/>
<polygon points="660,971.6 666.903,973.659 665.19,976.596" fill="#000"/>
<text transform="translate(703.5 1038) rotate(30.5)" x="0" y="5.73" font-size="16" textLength="48" lengthAdjust="spacingAndGlyphs" text-anchor="middle" fill="#000" stroke="#000" stroke-width="0.3">297.4°</text>
<line x1="680" y1="1023.6" x2="660.14" y2="1011.69" stroke="#000" stroke-width="1"/>
<polygon points="655,1008.6 661.877,1010.74 660.128,1013.66" fill="#000"/>
<text transform="translate(567.3 1104) rotate(0)" x="0" y="5.73" font-size="16" text-anchor="middle" fill="#000" stroke="#000" stroke-width="0.3">G</text>
<text transform="translate(599.6 1172.4) rotate(-86)" x="0" y="5.55" font-size="15.5" text-anchor="middle" fill="#000" stroke="#000" stroke-width="0.3">L</text>
<text transform="translate(501 1191.6) rotate(-86.5)" x="0" y="5.73" font-size="16" textLength="57" lengthAdjust="spacingAndGlyphs" text-anchor="middle" fill="#000" stroke="#000" stroke-width="0.3">0.8% UP</text>
<line x1="503" y1="1157" x2="504.66" y2="1127.99" stroke="#000" stroke-width="1"/>
<polygon points="505,1122 506.298,1129.09 502.903,1128.89" fill="#000"/>
<text transform="translate(543.7 1226.4) rotate(-86.5)" x="0" y="5.73" font-size="16" textLength="47" lengthAdjust="spacingAndGlyphs" text-anchor="middle" fill="#000" stroke="#000" stroke-width="0.3">000.3°</text>
<line x1="545.6" y1="1201" x2="547.98" y2="1173.58" stroke="#000" stroke-width="1"/>
<polygon points="548.5,1167.6 549.588,1174.72 546.201,1174.43" fill="#000"/>
<text x="466.4" y="1264.8" font-size="16" textLength="31.2" lengthAdjust="spacingAndGlyphs" fill="#000" stroke="#000" stroke-width="0.3">ELEV</text>
<text x="468.8" y="1282.8" font-size="16" textLength="27" lengthAdjust="spacingAndGlyphs" fill="#000" stroke="#000" stroke-width="0.3">748</text>
<text x="509.6" y="1298.4" font-size="16.5" textLength="17.3" lengthAdjust="spacingAndGlyphs" transform="rotate(3.5 509.6 1298.4)" fill="#000" stroke="#000" stroke-width="0.3">36</text>
<text x="70.7" y="613.4" font-size="16" textLength="31.7" lengthAdjust="spacingAndGlyphs" fill="#000" stroke="#000" stroke-width="0.3">ELEV</text>
<text x="72.4" y="632.4" font-size="16" textLength="26.4" lengthAdjust="spacingAndGlyphs" fill="#000" stroke="#000" stroke-width="0.3">789</text>
<text transform="translate(81.5 650.5) rotate(120.5)" x="0" y="5.91" font-size="16.5" textLength="14" lengthAdjust="spacingAndGlyphs" text-anchor="middle" fill="#000" stroke="#000" stroke-width="0.3">11</text>
<text transform="translate(127.6 698.4) rotate(30.5)" x="0" y="5.73" font-size="16" textLength="46" lengthAdjust="spacingAndGlyphs" text-anchor="middle" fill="#000" stroke="#000" stroke-width="0.3">117.4°</text>
<line x1="148.5" y1="713.5" x2="168.02" y2="724.88" stroke="#000" stroke-width="1"/>
<polygon points="173.2,727.9 166.296,725.843 168.009,722.906" fill="#000"/>
<line x1="77.5" y1="711" x2="91.07" y2="671.18" stroke="#000" stroke-width="1"/>
<polygon points="93,665.5 92.352,672.674 89.1336,671.578" fill="#000"/>
<rect x="62.3" y="711.6" width="56.2" height="60.7" fill="#fff" stroke="#111" stroke-width="1.1"/>
<text x="70.7" y="728.9" font-size="17" textLength="40.6" lengthAdjust="spacingAndGlyphs" fill="#000" stroke="#000" stroke-width="0.3">FIELD</text>
<text x="73.6" y="748.8" font-size="17" textLength="35.3" lengthAdjust="spacingAndGlyphs" fill="#000" stroke="#000" stroke-width="0.3">ELEV</text>
<text x="76" y="767.3" font-size="17" textLength="30" lengthAdjust="spacingAndGlyphs" fill="#000" stroke="#000" stroke-width="0.3">790</text>
<text transform="translate(313.8 704.3) rotate(30.5)" x="0" y="5.55" font-size="15.5" text-anchor="middle" fill="#000" stroke="#000" stroke-width="0.3">J</text>
<text transform="translate(425.4 798.8) rotate(-31)" x="0" y="5.55" font-size="15.5" text-anchor="middle" fill="#000" stroke="#000" stroke-width="0.3">K</text>
<text transform="translate(491.6 789.2) rotate(5)" x="0" y="5.55" font-size="15.5" text-anchor="middle" fill="#000" stroke="#000" stroke-width="0.3">J</text>
<text transform="translate(398 863) rotate(30.5)" x="0" y="5.73" font-size="16" textLength="76" lengthAdjust="spacingAndGlyphs" text-anchor="middle" fill="#000" stroke="#000" stroke-width="0.3">4099 X 75</text>
<text x="749.6" y="571.3" font-size="16" textLength="73.6" lengthAdjust="spacingAndGlyphs" fill="#000" stroke="#000" stroke-width="0.3">FBO RAMP</text>
<line x1="748" y1="567.2" x2="732.94" y2="569.61" stroke="#000" stroke-width="1"/>
<polygon points="728,570.4 733.672,567.872 734.177,571.032" fill="#000"/>
<text x="804" y="728" font-size="16" textLength="74" lengthAdjust="spacingAndGlyphs" fill="#000" stroke="#000" stroke-width="0.3">FBO RAMP</text>
<line x1="839" y1="731" x2="845.76" y2="744.53" stroke="#000" stroke-width="1"/>
<polygon points="848,749 843.886,744.349 846.748,742.918" fill="#000"/>
<rect x="592.6" y="594.2" width="47.6" height="25.6" fill="none" stroke="#9c5a14" stroke-width="4.4"/>
<text transform="translate(616.4 607.3) rotate(0)" x="0" y="5.91" font-size="16.5" textLength="33" lengthAdjust="spacingAndGlyphs" text-anchor="middle" fill="#9c5a14" stroke="#9c5a14" stroke-width="0.3">HS 2</text>
<line x1="623.6" y1="622" x2="614" y2="638.6" stroke="#9c5a14" stroke-width="1.8"/>
<circle cx="601.5" cy="661.3" r="25.3" fill="none" stroke="#9c5a14" stroke-width="2"/>
<rect x="621.6" y="827.8" width="47.9" height="25.9" fill="none" stroke="#9c5a14" stroke-width="4.4"/>
<text transform="translate(645.7 841) rotate(0)" x="0" y="5.91" font-size="16.5" textLength="32" lengthAdjust="spacingAndGlyphs" text-anchor="middle" fill="#9c5a14" stroke="#9c5a14" stroke-width="0.3">HS 1</text>
<line x1="615.5" y1="818" x2="629" y2="826.5" stroke="#9c5a14" stroke-width="1.8"/>
<circle cx="594.7" cy="802.9" r="25.9" fill="none" stroke="#9c5a14" stroke-width="2"/>
</svg>
</body></html>
